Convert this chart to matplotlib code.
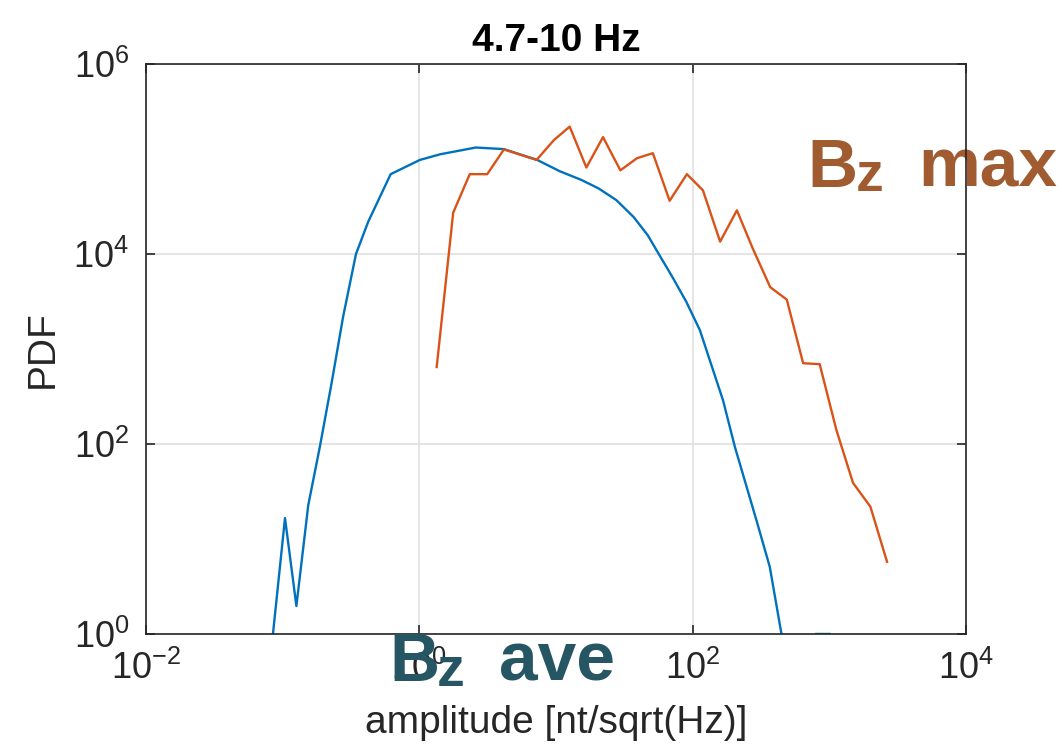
import matplotlib
matplotlib.use('Agg')
import matplotlib.pyplot as plt
from matplotlib.ticker import NullLocator
import numpy as np

plt.rcParams['font.family'] = ['Liberation Sans', 'DejaVu Sans']
plt.rcParams['axes.unicode_minus'] = False

#DATA
################################################################################

#Bz ave (blue), nan = empty bins (zero pdf)
ave_amp = [0.0849, 0.104, 0.126, 0.154, 0.187, 0.228, 0.277, 0.344, 0.423, 0.617,
           1.01, 1.42, 2.59, 4.16, 7.29, 10.7, 15.3, 20.5, 27.6, 37.0,
           46.9, 59.3, 71.0, 89.7, 113, 167, 204, 293, 367, 447,
           np.nan, 805, 1007]
ave_pdf = [1.0, 16.6, 1.97, 22.8, 93, 437, 2190, 1.0e4, 2.19e4, 6.92e4,
           9.77e4, 1.12e5, 1.32e5, 1.27e5, 9.77e4, 7.41e4, 6.03e4, 4.90e4, 3.70e4, 2.45e4,
           1.58e4, 8.9e3, 5.75e3, 3.16e3, 1.58e3, 288, 93, 15.8, 5.1, 1.0,
           np.nan, 1.0, 1.0]

#Bz max (orange)
max_amp = [1.34, 1.77, 2.34, 3.14, 4.16, 7.21, 9.66, 12.6, 16.7, 22.1,
           29.6, 39.2, 51.2, 67.9, 90.8, 119, 159, 211, 275, 370,
           489, 644, 851, 1127, 1493, 2000, 2649]
max_pdf = [646, 2.72e4, 6.92e4, 6.92e4, 1.26e5, 9.77e4, 1.58e5, 2.19e5, 8.13e4, 1.70e5,
           7.59e4, 1.02e5, 1.15e5, 3.63e4, 6.92e4, 4.68e4, 1.35e4, 2.88e4, 1.15e4, 4.47e3,
           3.31e3, 708, 692, 141, 38.9, 21.9, 5.75]

x_ticks = [1e-2, 1e0, 1e2, 1e4]
y_ticks = [1e0, 1e2, 1e4, 1e6]

#PLOT
################################################################################

fig = plt.figure(figsize=(10.62, 7.5), dpi=100)
ax = fig.add_axes([0.1375, 0.1547, 0.772, 0.76])

ax.plot(ave_amp, ave_pdf, color='#0072BD', lw=1.7)
ax.plot(max_amp, max_pdf, color='#D95319', lw=1.7)

ax.set_xscale('log')
ax.set_yscale('log')
ax.set_xlim(1e-2, 1e4)
ax.set_ylim(1e0, 1e6)
ax.set_xticks(x_ticks)
ax.set_yticks(y_ticks)
ax.xaxis.set_minor_locator(NullLocator())
ax.yaxis.set_minor_locator(NullLocator())

ax.grid(True, color='#e0e0e0', lw=1.2)
ax.set_axisbelow(True)
for s in ax.spines.values():
    s.set_color('#262626')
    s.set_linewidth(1.2)
ax.tick_params(direction='in', top=True, right=True, length=6.5, width=1.2,
               labelsize=26, pad=12, colors='#262626')

ax.set_title('4.7-10 Hz', fontsize=28, fontweight='bold', pad=9)
ax.set_xlabel('amplitude [nt/sqrt(Hz)]', fontsize=28, color='#262626')
ax.set_ylabel('PDF', fontsize=28, color='#262626')
ax.xaxis.set_label_coords(0.5, -0.125)
ax.yaxis.set_label_coords(-0.104, 0.5)

#annotations (max sits under the spines, ave over the tick labels)
tf = fig.transFigure
brown = '#A15B31'
ax.text(0.7604, 0.7511, 'B', transform=tf, fontsize=50, fontweight='bold', color=brown, zorder=1)
ax.text(0.806, 0.7447, 'z', transform=tf, fontsize=40, fontweight='bold', color=brown, zorder=1)
ax.text(0.8649, 0.7511, 'max', transform=tf, fontsize=50, fontweight='bold', color=brown, zorder=1)

teal = '#265664'
ax.text(0.3663, 0.0924, 'B', transform=tf, fontsize=50, fontweight='bold', color=teal, zorder=5)
ax.text(0.4115, 0.0853, 'z', transform=tf, fontsize=40, fontweight='bold', color=teal, zorder=5)
ax.text(0.4699, 0.0924, 'ave', transform=tf, fontsize=50, fontweight='bold', color=teal, zorder=5)

plt.savefig('out.png', dpi=100)
